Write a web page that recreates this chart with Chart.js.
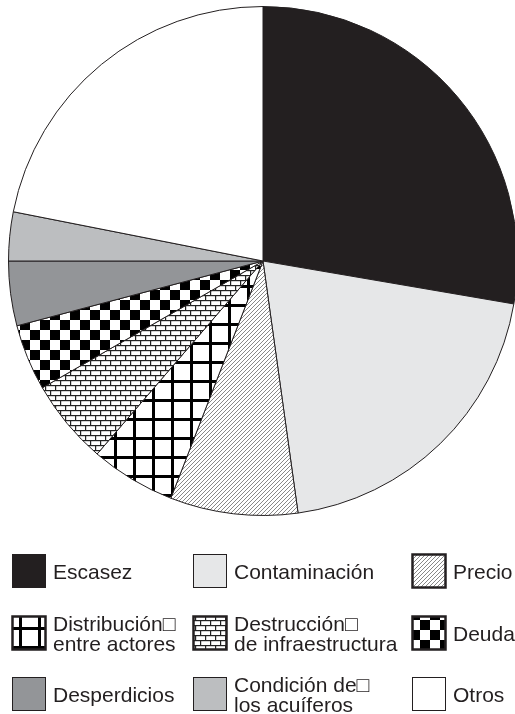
<!DOCTYPE html>
<html>
<head>
<meta charset="utf-8">
<script src="https://cdn.jsdelivr.net/npm/chart.js@4/dist/chart.umd.min.js"></script>
<style>
	html, body { margin: 0; padding: 0; background: #fff; overflow: hidden; }
	canvas { display: block; }
</style>
</head>
<body>
<canvas id="pie-chart" width="520" height="714"></canvas>
<script>
var labels = [
	'Escasez',
	'Contaminación',
	'Precio',
	'Distribución\u25a1\nentre actores',
	'Destrucción\u25a1\nde infraestructura',
	'Deuda',
	'Desperdicios',
	'Condición de\u25a1\nlos acuíferos',
	'Otros'
];
var values = [27.7, 20.1, 8.1, 5.4, 5.4, 4.2, 4.1, 3.1, 21.9];
var fills = ['#231f20', '#e6e7e8', 'hatch', 'grid', 'brick', 'checker', '#939598', '#bcbec0', '#ffffff'];

/* legend goes row by row, 3 columns */
var legend_order = [0, 1, 2, 3, 4, 5, 6, 7, 8];

function make_pattern(kind) {
	var c = document.createElement('canvas');
	var g = c.getContext('2d');
	if (kind === 'hatch') {
		c.width = 4; c.height = 4;
		g.fillStyle = '#fff';
		g.fillRect(0, 0, 4, 4);
		g.strokeStyle = '#7a7a7a';
		g.lineWidth = 0.9;
		g.beginPath();
		g.moveTo(-1, 5); g.lineTo(5, -1);
		g.moveTo(-1, 1); g.lineTo(1, -1);
		g.moveTo(3, 5); g.lineTo(5, 3);
		g.stroke();
	} else if (kind === 'grid') {
		c.width = 19; c.height = 19;
		g.fillStyle = '#fff';
		g.fillRect(0, 0, 19, 19);
		g.fillStyle = '#000';
		g.fillRect(0, 0, 3, 19);
		g.fillRect(0, 0, 19, 3);
	} else if (kind === 'checker') {
		c.width = 20; c.height = 20;
		g.fillStyle = '#fff';
		g.fillRect(0, 0, 20, 20);
		g.fillStyle = '#000';
		g.fillRect(0, 0, 10, 10);
		g.fillRect(10, 10, 10, 10);
	} else if (kind === 'brick') {
		c.width = 10; c.height = 10;
		g.fillStyle = '#fff';
		g.fillRect(0, 0, 10, 10);
		g.fillStyle = '#222';
		g.fillRect(0, 0, 10, 1.2);
		g.fillRect(0, 5, 10, 1.2);
		g.fillRect(0, 0, 1.2, 5);
		g.fillRect(5, 5, 1.2, 5);
	}
	return g.createPattern(c, 'repeat');
}

var ctx = document.getElementById('pie-chart').getContext('2d');
var bg = fills.map(function (f) {
	return f.charAt(0) === '#' ? f : make_pattern(f);
});

/* legend drawn under the pie, 3x3 grid */
var grid_legend = {
	id: 'gridLegend',
	afterDraw: function (chart) {
		var c = chart.ctx;
		var box_x = [12, 193, 412];
		var text_x = [53, 234, 453];
		var row_y = [554, 616, 677];
		var size = 34;
		var ds = chart.data.datasets[0];
		c.save();
		c.font = '21px "Liberation Sans", Arial, sans-serif';
		c.textBaseline = 'alphabetic';
		c.textAlign = 'left';
		legend_order.forEach(function (idx, i) {
			var col = i % 3, row = Math.floor(i / 3);
			var x = box_x[col], y = row_y[row];
			c.fillStyle = ds.backgroundColor[idx];
			c.fillRect(x, y, size, size);
			c.strokeStyle = '#231f20';
			c.lineWidth = typeof ds.backgroundColor[idx] === 'string' ? 1 : 2.5;
			c.strokeRect(x + 0.5, y + 0.5, size - 1, size - 1);
			var lines = chart.data.labels[idx].split('\n');
			var cy = y + size / 2;
			c.fillStyle = '#231f20';
			lines.forEach(function (t, j) {
				c.fillText(t, text_x[col], cy + 7.5 + (j - (lines.length - 1) / 2) * 20);
			});
		});
		c.restore();
	}
};

new Chart(ctx, {
	type: 'pie',
	data: {
		labels: labels,
		datasets: [{
			data: values,
			backgroundColor: bg,
			borderColor: '#231f20',
			borderWidth: 1
		}]
	},
	options: {
		responsive: false,
		animation: false,
		layout: {
			padding: { left: 8, right: 2, top: 6, bottom: 198 }
		},
		plugins: {
			legend: { display: false },
			tooltip: { enabled: false }
		}
	},
	plugins: [grid_legend]
});
</script>
</body>
</html>
